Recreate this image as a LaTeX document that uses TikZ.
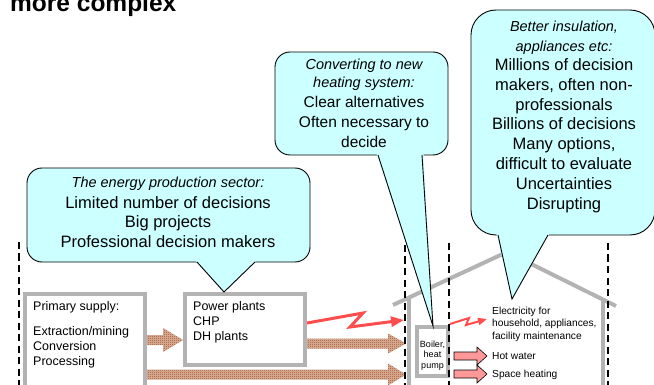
\documentclass[tikz,border=0pt]{standalone}
\usepackage{fontspec}
\setmainfont{Liberation Sans}
\usetikzlibrary{arrows.meta,patterns}
\definecolor{bub}{HTML}{CCFFFF}
\definecolor{gbox}{HTML}{B3B3B3}
\definecolor{redl}{HTML}{FF4D4D}
\definecolor{pinkf}{HTML}{FF9999}
\definecolor{brn}{HTML}{9A4A2C}
\definecolor{brnl}{HTML}{DDB49A}
\pgfdeclarepatternformonly{finecheck}{\pgfpointorigin}{\pgfqpoint{2pt}{2pt}}{\pgfqpoint{2pt}{2pt}}{%
  \pgfpathrectangle{\pgfpointorigin}{\pgfqpoint{1pt}{1pt}}%
  \pgfpathrectangle{\pgfqpoint{1pt}{1pt}}{\pgfqpoint{1pt}{1pt}}%
  \pgfusepath{fill}}
\newcommand\fatarr[7]{\path[#7] (#1,{#4-#5}) -- (#3,{#4-#5}) -- (#3,{#4-#6}) -- (#2,#4) -- (#3,{#4+#6}) -- (#3,{#4+#5}) -- (#1,{#4+#5}) -- cycle;}
\begin{document}
\begin{tikzpicture}[x=1pt,y=-1pt,
 bubble/.style={draw=black, line width=0.9pt, fill=bub},
 bubline/.style={draw=black, line width=0.9pt},
 graybox/.style={draw=gbox, line width=4pt, fill=white, inner sep=0pt, outer sep=0pt, rectangle},
 dashv/.style={black, line width=2.2pt, dash pattern=on 7pt off 4.5pt},
 wall/.style={gbox, line width=4pt},
 bt/.style={anchor=base, inner sep=0pt, font=\fontsize{16.5}{20}\selectfont},
 mt/.style={anchor=base, inner sep=0pt, font=\fontsize{15.5}{19}\selectfont},
 bi/.style={anchor=base, inner sep=0pt, font=\fontsize{14.5}{18}\selectfont\itshape},
 boxt/.style={anchor=base west, inner sep=0pt, font=\fontsize{12.5}{15}\selectfont},
 smallt/.style={anchor=base west, inner sep=0pt, font=\fontsize{10.2}{12}\selectfont},
 tinyt/.style={anchor=base, inner sep=0pt, font=\fontsize{9}{10}\selectfont},
 brownarr/.style={pattern=finecheck, pattern color=brn, preaction={fill=brnl}},
 pinkarr/.style={fill=pinkf, draw=black, line width=0.6pt},
 redarr/.style={draw=redl, line width=3pt, line join=miter, -{Triangle[length=13pt,width=10pt]}},
 redarrs/.style={draw=redl, line width=2pt, line join=miter, -{Triangle[length=9pt,width=7pt]}}
]
\clip (0,0) rectangle (654,385);

% title
\node[anchor=base west, inner sep=0pt, font=\fontsize{24.5}{28}\selectfont\bfseries] (title) at (10,12) {more complex};

% house
\draw[wall] (393,305) -- (507,252) -- (616,306);
\draw[wall] (409,298) -- (409,392);
\draw[wall] (603,298) -- (603,392);

% boxes
\node[graybox, minimum width=120pt, minimum height=106pt] (ps) at (85,347) {};
\node[graybox, minimum width=120pt, minimum height=71pt] (pp) at (245,329.5) {};
\node[graybox, minimum width=31pt, minimum height=49pt] (boiler) at (432.5,351.5) {};

\node[boxt] (ps1) at (33,310.5) {Primary supply:};
\node[boxt] (ps2) at (33,335.5) {Extraction/mining};
\node[boxt] (ps3) at (33,350.5) {Conversion};
\node[boxt] (ps4) at (33,365.5) {Processing};

\node[boxt] (pp1) at (193,310) {Power plants};
\node[boxt] (pp2) at (193,325) {CHP};
\node[boxt] (pp3) at (193,340) {DH plants};

\node[tinyt] (bo1) at (432.5,347) {Boiler,};
\node[tinyt] (bo2) at (432.5,357.5) {heat};
\node[tinyt] (bo3) at (432.5,368) {pump};

% brown arrows
\fatarr{147}{183}{163}{340}{5}{12}{brownarr}
\fatarr{307}{406}{388}{343.5}{5}{10}{brownarr}
\fatarr{147}{406}{388}{374.5}{5}{11}{brownarr}

% red lightning arrows
\draw[redarr] (307,323) -- (363,313) -- (350,327) -- (404,320);
\draw[redarrs] (450,324) -- (469,318) -- (466,325) -- (487,319);

% pink arrows
\fatarr{454}{487}{477}{356}{4}{9}{pinkarr}
\fatarr{454}{487}{477}{374}{4}{9}{pinkarr}

\node[smallt] (el1) at (492,314) {Electricity for};
\node[smallt] (el2) at (492,326.5) {household, appliances,};
\node[smallt] (el3) at (492,339) {facility maintenance};
\node[smallt] (hw) at (492,359) {Hot water};
\node[smallt] (sh) at (492,377.5) {Space heating};

% dashed lines
\draw[dashv] (19,242) -- (19,392);
\draw[dashv] (405,245) -- (405,392);
\draw[dashv] (449,243) -- (449,392);
\draw[dashv] (608,243) -- (608,392);

% left bubble
\draw[bubble, rounded corners=15pt] (27,168) rectangle (310,262);
\path[fill=bub] (195.5,260.5) -- (224,292) -- (256.5,260.5) -- cycle;
\draw[bubline] (197,262) -- (224,292) -- (255,262);
\node[bi] (l1) at (168,188) {The energy production sector:};
\node[bt] (l2) at (168,208) {Limited number of decisions};
\node[bt] (l3) at (168,228) {Big projects};
\node[bt] (l4) at (168,247.5) {Professional decision makers};

% middle bubble
\draw[bubble, rounded corners=15pt] (275,52) rectangle (448,155);
\path[fill=bub] (376.5,153.5) -- (433,326) -- (423.5,153.5) -- cycle;
\draw[bubline] (378,155) -- (433,326) -- (422,155);
\node[bi] (m1) at (364,70) {Converting to new};
\node[bi] (m2) at (364,87.5) {heating system:};
\node[mt] (m3) at (364,107.5) {Clear alternatives};
\node[mt] (m4) at (364,127.5) {Often necessary to};
\node[mt] (m5) at (364,147.5) {decide};

% right bubble
\draw[bubble, rounded corners=25pt] (471,10) rectangle (655,235);
\path[fill=bub] (496.5,233.5) -- (512,299) -- (549.5,233.5) -- cycle;
\draw[bubline] (498,235) -- (512,299) -- (548,235);
\node[bi] (r1) at (564,32) {Better insulation,};
\node[bi] (r2) at (564,51.5) {appliances etc:};
\node[bt] (r3) at (564,70.5) {Millions of decision};
\node[bt] (r4) at (564,90.3) {makers, often non-};
\node[bt] (r5) at (564,110.1) {professionals};
\node[bt] (r6) at (564,129.9) {Billions of decisions};
\node[bt] (r7) at (564,149.7) {Many options,};
\node[bt] (r8) at (564,169.5) {difficult to evaluate};
\node[bt] (r9) at (564,189.3) {Uncertainties};
\node[bt] (r10) at (564,209.1) {Disrupting};
\end{tikzpicture}
\end{document}
